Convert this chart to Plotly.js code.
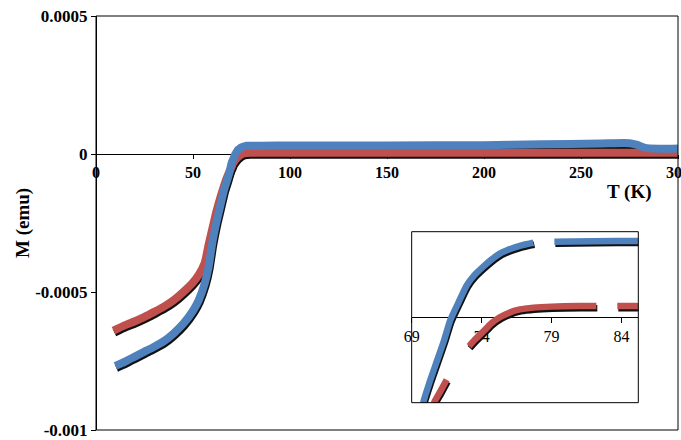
<!DOCTYPE html>
<html>
<head>
<meta charset="utf-8">
<script src="https://cdn.plot.ly/plotly-3.0.1.min.js"></script>
<style>html,body{margin:0;padding:0;background:#fff;}#chart{width:681px;height:440px;}</style>
</head>
<body>
<div id="chart"></div>
<script>
// ---- data ----
const redT = [9, 15, 20, 25, 30, 35, 40, 45, 50, 53, 56, 58, 60, 62, 64, 66, 67.5, 69, 70, 70.6, 71.05, 71.5, null, 73.1, 73.6, 74.2, 74.7, 75.3, 75.9, 76.5, 77.1, 77.7, 79, 81, 82.2, null, 83.7, 85, 100, 150, 200, 250, 280, 300];
const redM = [-0.00064, -0.00062, -0.000606, -0.00059, -0.000572, -0.000553, -0.00053, -0.0005, -0.000465, -0.000437, -0.000395, -0.00033, -0.00027, -0.00021, -0.00016, -0.000115, -0.000085, -0.00006, -0.000045, -0.000034, -0.0000295, -0.0000249, null, -0.0000115, -0.0000085, -0.0000052, -0.0000024, 0, 0.0000016, 0.0000028, 0.0000034, 0.0000038, 0.0000042, 0.0000044, 0.0000044, null, 0.0000044, 0.0000044, 0.0000042, 0.0000042, 0.0000043, 0.0000045, 0.0000046, 0.0000044];

const blueT = [10, 15, 20, 25, 30, 35, 40, 45, 50, 53, 56, 58, 60, 62, 64, 66, 67.8, 69, 69.83, 70.3, 70.8, 71.3, 71.76, 72.35, 72.95, 73.5, 74.12, 74.7, 75.3, 75.9, 76.5, 77.1, 77.7, null, 79.2, 82, 85, 100, 150, 200, 230, 260, 275, 279, 283, 290, 300];
const blueM = [-0.000768, -0.000752, -0.000734, -0.000716, -0.000698, -0.000678, -0.00065, -0.000615, -0.000568, -0.000529, -0.00047, -0.00041, -0.00032, -0.00025, -0.00019, -0.00013, -0.00009, -0.00006, -0.0000339, -0.0000255, -0.0000175, -0.0000095, -0.0000012, 0.0000059, 0.0000128, 0.0000168, 0.0000201, 0.0000229, 0.0000253, 0.0000268, 0.000028, 0.0000289, 0.0000296, null, 0.00003, 0.0000302, 0.0000303, 0.000031, 0.000031, 0.000032, 0.000035, 0.000038, 0.000039, 0.000033, 0.000022, 0.000019, 0.00002];

const xTickVals = [0, 50, 100, 150, 200, 250, 300];
const xTickText = ['0', '50', '100', '150', '200', '250', '300'];
const yTickVals = [0.0005, 0, -0.0005, -0.001];
const yTickText = ['0.0005', '0', '-0.0005', '-0.001'];
const insetTickVals = [69, 74, 79, 84];
const insetTickText = ['69', '74', '79', '84'];

// ---- styling ----
const BLUE = '#4F81BD', RED = '#C0504D';
const serif = 'Liberation Serif, Times New Roman, serif';
const mainX = [0, 300], mainY = [-0.001, 0.0005];
const insX = [69, 85.2], insY = [-0.000034, 0.000034];
// shadow offsets (in data units) -> approx 1px right, 2px down
const mdx = 0.5, mdy = 0.0000073;
const idx = 0.07, idy = 0.0000008;

function tr(x, y, color, w, xa, ya, gaps) {
  return {x: x, y: y, type: 'scatter', mode: 'lines', xaxis: xa, yaxis: ya,
    line: {color: color, width: w, shape: 'spline', smoothing: 0.6}, connectgaps: gaps,
    hoverinfo: 'skip', showlegend: false};
}

const data = [
  tr(redT, redM, '#111', 8, 'x', 'y', true),
  tr(blueT, blueM, '#111', 8, 'x', 'y', true),
  tr(redT, redM, RED, 8, 'x3', 'y3', true),
  tr(blueT, blueM, BLUE, 8, 'x3', 'y3', true),
  tr(redT, redM, '#111', 6.5, 'x2', 'y2', false),
  tr(blueT, blueM, '#111', 6.5, 'x2', 'y2', false),
  tr(redT, redM, RED, 6.5, 'x4', 'y4', false),
  tr(blueT, blueM, BLUE, 6.5, 'x4', 'y4', false)
];

const insDomX = [0.5424, 0.9318], insDomY = [0.066, 0.479];

const layout = {
  width: 681, height: 440,
  margin: {l: 96, r: 3, t: 16, b: 10},
  paper_bgcolor: '#fff', plot_bgcolor: '#fff',
  showlegend: false,
  xaxis: {domain: [0, 1], range: [mainX[0] - mdx, mainX[1] - mdx], visible: false, anchor: 'y', fixedrange: true},
  yaxis: {domain: [0, 1], range: [mainY[0] + mdy, mainY[1] + mdy], visible: false, anchor: 'x', fixedrange: true},
  xaxis3: {overlaying: 'x', range: mainX, anchor: 'free', position: 2 / 3,
    tickmode: 'array', tickvals: xTickVals, ticktext: xTickText,
    ticks: 'outside', ticklen: 4, tickcolor: '#000', tickwidth: 1, ticklabeloverflow: 'allow',
    showline: true, linecolor: '#000', linewidth: 1, showgrid: false, zeroline: false,
    tickfont: {family: serif, size: 16, color: '#000', weight: 'bold'}, layer: 'below traces'},
  yaxis3: {overlaying: 'y', range: mainY, anchor: 'free', position: 0, side: 'left',
    tickmode: 'array', tickvals: yTickVals, ticktext: yTickText,
    ticks: 'outside', ticklen: 5, tickcolor: '#000', tickwidth: 1, ticklabeloverflow: 'allow',
    showline: true, linecolor: '#000', linewidth: 1, showgrid: false, zeroline: false,
    tickfont: {family: serif, size: 17, color: '#000', weight: 'bold'}},
  xaxis2: {domain: insDomX, range: [insX[0] - idx, insX[1] - idx], visible: false, anchor: 'y2', fixedrange: true},
  yaxis2: {domain: insDomY, range: [insY[0] + idy, insY[1] + idy], visible: false, anchor: 'x2', fixedrange: true},
  xaxis4: {overlaying: 'x2', range: insX, anchor: 'free', position: (insDomY[0] + insDomY[1]) / 2,
    tickmode: 'array', tickvals: insetTickVals, ticktext: insetTickText,
    ticks: 'outside', ticklen: 5, tickcolor: '#000', tickwidth: 1, ticklabeloverflow: 'allow',
    showline: true, linecolor: '#000', linewidth: 1, showgrid: false, zeroline: false,
    tickfont: {family: serif, size: 16, color: '#000'}, layer: 'below traces'},
  yaxis4: {overlaying: 'y2', range: insY, anchor: 'free', position: insDomX[0], visible: false},
  shapes: [
    {type: 'rect', xref: 'paper', yref: 'paper', x0: 0, x1: 1, y0: 0, y1: 1, line: {color: '#000', width: 1}},
    {type: 'rect', xref: 'paper', yref: 'paper', x0: insDomX[0], x1: insDomX[1], y0: insDomY[0], y1: insDomY[1], line: {color: '#000', width: 1}}
  ],
  annotations: [
    {text: 'T (K)', xref: 'paper', yref: 'paper', x: 0.9175, y: 0.575, showarrow: false,
      xanchor: 'center', yanchor: 'middle', font: {family: serif, size: 19, color: '#000', weight: 'bold'}},
    {text: 'M (emu)', xref: 'paper', yref: 'paper', x: -0.1254, y: 0.5, showarrow: false, textangle: -90,
      xanchor: 'center', yanchor: 'middle', font: {family: serif, size: 19, color: '#000', weight: 'bold'}}
  ]
};

Plotly.newPlot('chart', data, layout, {staticPlot: true, displayModeBar: false});
</script>
</body>
</html>
